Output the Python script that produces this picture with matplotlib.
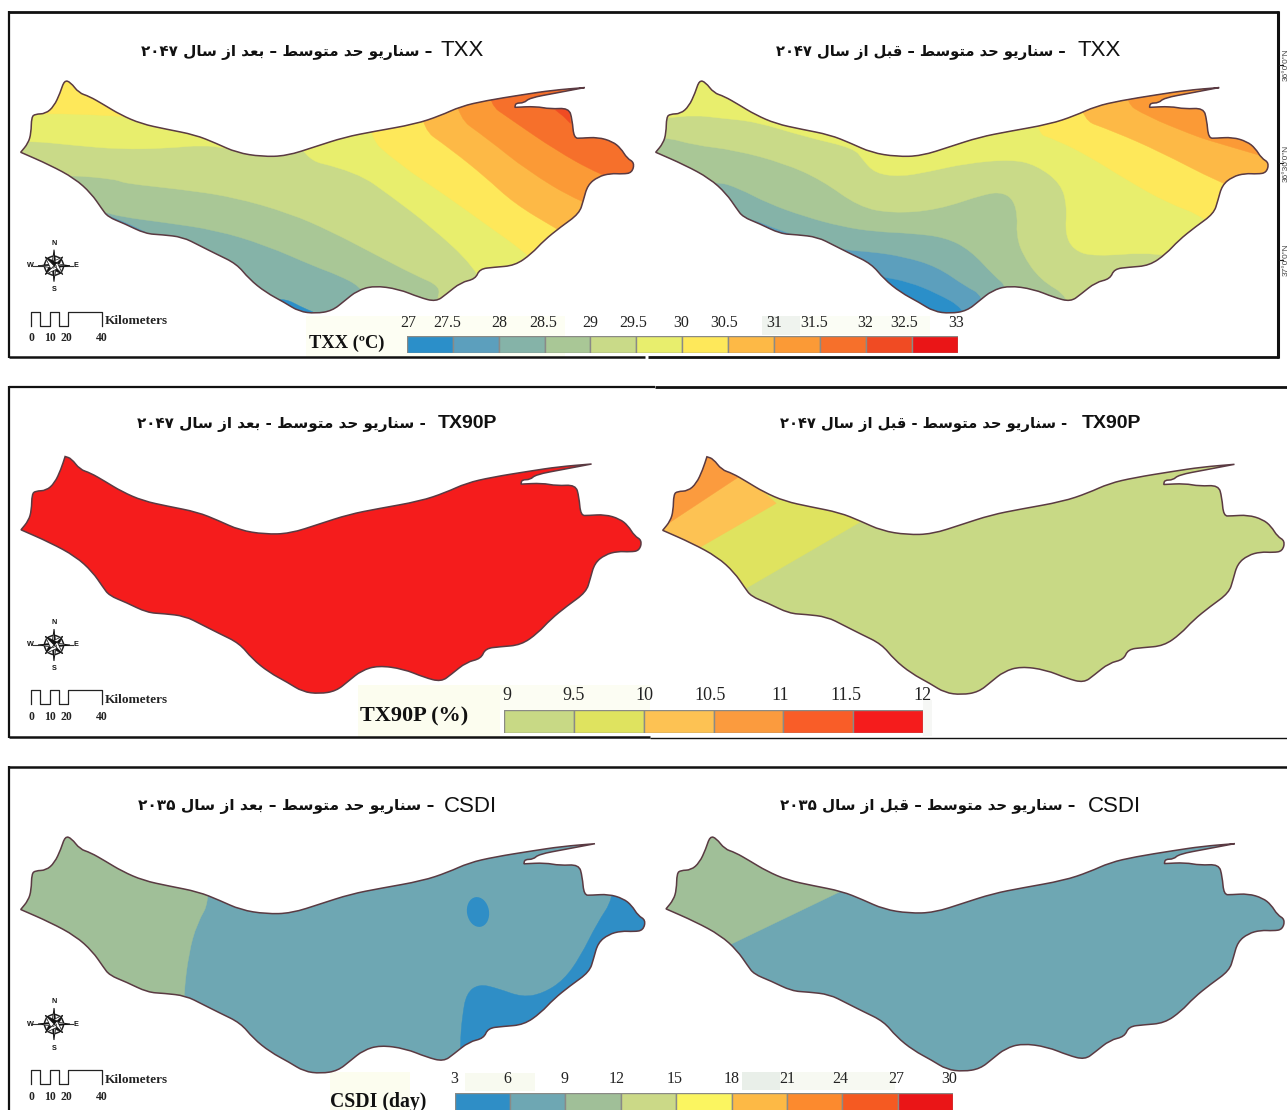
import numpy as np
import matplotlib
matplotlib.use("Agg")
import matplotlib.pyplot as plt
from matplotlib.patches import Circle, PathPatch, Polygon, Rectangle, Ellipse
from matplotlib.path import Path

W, H = 1287, 1110
SERIF = "Liberation Serif"
SANS = "Liberation Sans"

# province outline
OUTLINE = [(50, 457), (68, 430), (75, 400), (76, 352), (85, 343), (110, 342), (130, 320), (145, 280),
           (155, 242), (170, 248), (190, 280), (215, 290), (250, 315), (290, 345), (340, 372), (400, 388),
           (470, 405), (520, 430), (570, 458), (630, 470), (690, 468), (760, 440), (830, 412), (900, 395),
           (1000, 373), (1060, 348), (1110, 320), (1170, 303), (1260, 285), (1330, 272), (1408, 264),
           (1340, 280), (1275, 295), (1262, 310), (1242, 310), (1240, 323), (1290, 320), (1325, 328),
           (1370, 325), (1378, 360), (1382, 415), (1400, 415), (1440, 412), (1475, 425), (1495, 445),
           (1510, 475), (1528, 488), (1522, 518), (1500, 522), (1470, 520), (1440, 530), (1415, 555),
           (1405, 600), (1395, 640), (1350, 680), (1310, 720), (1280, 760), (1240, 795), (1190, 800),
           (1155, 805), (1145, 835), (1110, 845), (1075, 880), (1050, 903), (1010, 890), (960, 865),
           (900, 855), (860, 870), (830, 900), (800, 930), (760, 938), (720, 932), (685, 905), (640, 875),
           (600, 835), (570, 790), (520, 760), (480, 735), (440, 710), (390, 703), (350, 700), (300, 670),
           (260, 650), (245, 625), (220, 580), (180, 535), (120, 495)]

# colour classes
TXX_LEVELS = [27, 27.5, 28, 28.5, 29, 29.5, 30, 30.5, 31, 31.5, 32, 32.5, 33]
TXX_COLORS = ["#2b8fc9", "#5c9fbd", "#85b3a8", "#a9c796", "#c9da88", "#e8ee6d",
              "#fee85a", "#fdb946", "#fb9a36", "#f6702b", "#f04b23", "#ea1517"]
TXX_NUDGE = [1.3, -5.7, 1, -1.7, 0, -3.7, -1.6, -4.6, 0.4, -5.6, -0.5, -7.5, -2]
TX90P_LEVELS = [9, 9.5, 10, 10.5, 11, 11.5, 12]
TX90P_COLORS = ["#c8d985", "#dfe35f", "#fdc253", "#fb9b3e", "#f95d28", "#f51c1c"]
TX90P_NUDGE = [3, 0, 1, -3.5, -3, -7, -1]
CSDI_LEVELS = [3, 6, 9, 12, 15, 18, 21, 24, 27, 30]
CSDI_COLORS = ["#2f8ec6", "#6ea7b3", "#a0bf98", "#cbd987", "#fbf560",
               "#fdb945", "#fc8a2e", "#f55a22", "#ea1517"]
CSDI_NUDGE = [-1, -3, -1, -3.7, -2, 0, 0, -2, -1.4, -3.7]

# class boundaries for TXX after 2047
A_TEAL_SLIVER = [(245, 640), (300, 666), (350, 696), (320, 720), (200, 670)]
A_BLUE_SLIVER = [(690, 897), (725, 920), (755, 936), (700, 970), (650, 900)]
A_GREEN = [(200, 620), (250, 635), (290, 650), (400, 668), (520, 690), (640, 735), (760, 800),
           (815, 825), (870, 860), (880, 900)]
A_OLIVE = [(170, 525), (280, 538), (300, 550), (430, 567), (560, 590), (700, 640), (800, 695),
           (900, 760), (1000, 825), (1065, 860), (1050, 910), (1100, 1300)]
A_LIME_W = [(-100, 423), (78, 423), (170, 435), (290, 448), (400, 445), (490, 435), (545, 445),
            (545, 200), (-100, 200)]
A_LIME_E = [(690, 465), (860, 515), (945, 590), (1040, 680), (1145, 800), (1180, 900)]
A_YELLOW_W = [(-100, 345), (120, 340), (240, 345), (300, 350), (300, 150), (-100, 150)]
A_YELLOW_E = [(875, 395), (960, 490), (1080, 590), (1180, 680), (1260, 750), (1400, 900)]
A_LORANGE = [(1000, 370), (1090, 450), (1170, 530), (1240, 610), (1340, 685), (1500, 800)]
A_ORANGE = [(1085, 335), (1180, 420), (1270, 510), (1395, 605), (1600, 700)]
A_DORANGE = [(1165, 300), (1240, 365), (1340, 450), (1440, 520), (1600, 600)]
A_RED = [(1340, 330), (1372, 320), (1376, 370), (1360, 350)]

# class boundaries for TXX before 2047
B_STEEL = [(560, 825), (585, 830), (650, 845), (720, 880), (785, 925), (800, 1000)]
B_TEAL = [(240, 640), (345, 695), (490, 750), (560, 755), (640, 770), (720, 800), (790, 860),
          (830, 885), (850, 1000)]
B_GREEN = [(185, 543), (240, 565), (310, 610), (400, 650), (490, 680), (570, 695), (660, 700),
           (740, 712), (800, 750), (860, 830), (890, 860), (900, 1000)]
B_OLIVE = [(60, 410), (130, 435), (230, 450), (350, 490), (440, 540), (530, 620), (610, 640),
           (720, 630), (840, 580), (880, 578), (905, 600), (915, 650), (912, 700), (925, 760),
           (970, 840), (1040, 890), (1050, 1000)]
B_LIME = [(65, 355), (130, 345), (200, 355), (280, 365), (400, 410), (520, 445), (540, 480),
          (570, 520), (630, 530), (700, 515), (790, 490), (900, 478), (960, 495), (1020, 550),
          (1035, 620), (1030, 700), (1050, 750), (1100, 770), (1250, 755), (1400, 800)]
B_YELLOW = [(950, 395), (1010, 420), (1090, 470), (1180, 540), (1280, 610), (1370, 650), (1500, 800)]
B_LORANGE = [(1050, 350), (1150, 395), (1260, 455), (1400, 545), (1600, 650)]
B_ORANGE = [(1165, 300), (1230, 350), (1340, 405), (1375, 420), (1480, 458), (1650, 520)]

# class boundaries for the other maps, straight ones stay straight
C_LIME = [(-100, 893), (250, 630), (535, 425), (-100, -100)]
C_LORANGE = [(-100, 676), (155, 495), (330, 370), (-100, -100)]
C_ORANGE = [(-100, 567), (75, 425), (240, 290), (-100, -100)]
D_GREEN = [(510, 415), (475, 490), (455, 580), (443, 705), (443, 800), (-100, 800), (-100, -100), (510, -100)]
D_BLUE = [(1480, 415), (1440, 490), (1400, 590), (1360, 660), (1310, 700), (1260, 712), (1200, 685),
          (1155, 672), (1125, 700), (1115, 770), (1110, 850), (1110, 1000), (1800, 1000), (1800, 300), (1480, 300)]
E_GREEN = [(-100, 744), (225, 550), (485, 395), (-100, -100)]

# Persian titles
LETTERS = {"ا": (0xFE8D, 0xFE8E), "ب": (0xFE8F, 0xFE90, 0xFE91, 0xFE92), "ت": (0xFE95, 0xFE96, 0xFE97, 0xFE98),
           "ح": (0xFEA1, 0xFEA2, 0xFEA3, 0xFEA4), "د": (0xFEA9, 0xFEAA), "ر": (0xFEAD, 0xFEAE),
           "ز": (0xFEAF, 0xFEB0), "س": (0xFEB1, 0xFEB2, 0xFEB3, 0xFEB4), "ط": (0xFEC1, 0xFEC2, 0xFEC3, 0xFEC4),
           "ع": (0xFEC9, 0xFECA, 0xFECB, 0xFECC), "ق": (0xFED5, 0xFED6, 0xFED7, 0xFED8),
           "ل": (0xFEDD, 0xFEDE, 0xFEDF, 0xFEE0), "م": (0xFEE1, 0xFEE2, 0xFEE3, 0xFEE4),
           "ن": (0xFEE5, 0xFEE6, 0xFEE7, 0xFEE8), "و": (0xFEED, 0xFEEE), "ی": (0xFBFC, 0xFBFD, 0xFBFE, 0xFBFF)}


def shape_word(word):
    # matplotlib does no Arabic shaping, so pick the joined glyphs by hand
    if not word[0] in LETTERS:
        return word
    out = []
    for i, ch in enumerate(word):
        forms = LETTERS[ch]
        before = i > 0 and len(LETTERS[word[i - 1]]) == 4
        after = i < len(word) - 1 and len(forms) == 4
        if before and after:
            code = forms[3]
        elif after:
            code = forms[2]
        elif before:
            code = forms[1]
        else:
            code = forms[0]
        out.append(chr(code))
    return "".join(reversed(out))


def persian(text):
    return " ".join(shape_word(w) for w in reversed(text.split()))


def above(pts):
    return pts + [(1800, 1300), (1800, -100), (-100, -100), (-100, pts[0][1])]


def east_of(pts):
    return pts + [(1800, 1300), (1800, -100), (pts[0][0], -100)]


def rounded_path(pts):
    # quadratic curves through edge midpoints, sharp corners stay sharp
    n = len(pts)
    mids = (pts + np.roll(pts, -1, axis=0)) / 2
    verts = [mids[-1]]
    codes = [Path.MOVETO]
    for i in range(n):
        a = pts[i] - pts[i - 1]
        b = pts[(i + 1) % n] - pts[i]
        if np.dot(a, b) < 0:
            verts += [pts[i], mids[i]]
            codes += [Path.LINETO, Path.LINETO]
        else:
            verts += [pts[i], mids[i]]
            codes += [Path.CURVE3, Path.CURVE3]
    return Path(np.array(verts), codes)


def draw_map(ax, extent, origin, xscale, base, zones):
    outline = np.array(OUTLINE, dtype=float)
    x0, x1, y0, y1 = extent
    xs = x0 + (outline[:, 0] - 50) / (1528 - 50) * (x1 - x0)
    ys = y0 + (outline[:, 1] - 242) / (938 - 242) * (y1 - y0)
    path = rounded_path(np.column_stack([xs, ys]))
    shape = PathPatch(path, facecolor=base, edgecolor="none", zorder=2)
    ax.add_patch(shape)
    for color, zone in zones:
        z = np.array(zone, dtype=float) / [xscale, 3.0] + origin
        zpath = Path(np.vstack([z, z[0]]), closed=True) if len(z) <= 4 else rounded_path(z)
        p = PathPatch(zpath, facecolor=color, edgecolor=color, lw=0.3, zorder=3)
        ax.add_patch(p)
        p.set_clip_path(shape)
    ax.add_patch(PathPatch(path, facecolor="none", edgecolor="#5a3a42", lw=1.1, zorder=4))
    return shape


def draw_compass(ax, cx, cy):
    ax.plot([cx - 21, cx + 19], [cy, cy], color="#333333", lw=0.8, zorder=4)
    ax.add_patch(Circle((cx, cy), 9.5, facecolor="none", edgecolor="#222222", lw=1.1, zorder=4))
    for k in range(8):
        ang = np.pi / 4 * k
        r = 16 if k % 2 == 0 else 12.5
        tip = np.array([np.sin(ang), -np.cos(ang)])
        side = np.array([np.cos(ang), np.sin(ang)]) * (2.4 if k % 2 == 0 else 4.5)
        ax.add_patch(Polygon([(cx, cy), (cx + tip[0] * r, cy + tip[1] * r), (cx + side[0], cy + side[1])],
                             facecolor="#111111", edgecolor="#111111", lw=0.3, zorder=5))
        ax.add_patch(Polygon([(cx, cy), (cx + tip[0] * r, cy + tip[1] * r), (cx - side[0], cy - side[1])],
                             facecolor="white", edgecolor="#111111", lw=0.5, zorder=5))
    for lab, dx, dy in [("N", 0, -22.5), ("S", 0, 24), ("W", -24, 0), ("E", 22, 0)]:
        ax.text(cx + dx, cy + dy, lab, fontsize=5.2, fontweight="bold", family=SANS,
                ha="center", va="center", color="#111111", zorder=6)


def draw_scale(ax, y_top):
    xs = np.array([31, 31, 40, 40, 50, 50, 59, 59, 68, 68, 102, 102])
    ys = y_top + np.array([14, 0, 0, 14, 14, 0, 0, 14, 14, 0, 0, 14])
    ax.plot(xs, ys, color="#222222", lw=0.9, zorder=5)
    ax.text(104.5, y_top + 10, "Kilometers", fontsize=9.6, fontweight="bold", family=SERIF,
            va="center", ha="left", color="#222222", zorder=6)
    for lab, x in [("0", 31.5), ("10", 50), ("20", 66.5), ("40", 102)]:
        ax.text(x, y_top + 26.5, lab, fontsize=8.4, fontweight="bold", family=SERIF,
                va="center", ha="center", color="#222222", zorder=6)


def draw_bar(fig, box, levels, colors, nudges, lift, fontsize):
    x0, x1, y0, y1 = box
    bar = fig.add_axes([x0 / W, 1 - y1 / H, (x1 - x0) / W, (y1 - y0) / H])
    bar.set_xlim(levels[0], levels[-1])
    bar.set_ylim(0, 1)
    bar.bar(levels[:-1], 1, width=np.diff(levels), align="edge", color=colors, edgecolor="#8a8a86", lw=1)
    bar.axis("off")
    for val, dx in zip(levels, nudges):
        bar.annotate(f"{val:g}", xy=(val, 1), xycoords=("data", "axes fraction"), xytext=(dx, lift),
                     textcoords="offset pixels", ha="center", va="center", fontsize=fontsize,
                     family=SERIF, color="#222222", annotation_clip=False)


def draw_title(ax, x_latin, x_fa, y, latin, text, weight, size_latin, size_fa):
    ax.text(x_latin, y, latin, family=SANS, fontsize=size_latin, fontweight=weight,
            ha="right", va="center", color="#111111", zorder=6)
    ax.text(x_fa, y + 1, persian(text), family="DejaVu Sans", fontsize=size_fa, fontweight="bold",
            ha="right", va="center", color="#111111", zorder=6)


fig = plt.figure(figsize=(W / 100, H / 100), dpi=100)
ax = fig.add_axes([0, 0, 1, 1])
ax.set_xlim(0, W)
ax.set_ylim(H, 0)
ax.axis("off")

# pale leftovers behind the legends
for x, y, w, h, c in [(306, 316, 259, 41, "#fdfef3"), (762, 316, 38, 19, "#eff3ee"), (800, 316, 130, 19, "#fbfdf5"),
                      (358, 685, 142, 52, "#fcfdef"), (500, 685, 150, 25, "#fcfdf3"), (923, 700, 9, 36, "#f6f7f5"),
                      (330, 1072, 80, 38, "#fcfdef"), (465, 1073, 70, 18, "#f8faf0"), (742, 1072, 38, 18, "#e9efe9"),
                      (780, 1072, 115, 18, "#f7f9f2")]:
    ax.add_patch(Rectangle((x, y), w, h, facecolor=c, edgecolor="none", zorder=1))

# frames
for xs, ys, lw in [([9, 1279], [12, 12], 2.0), ([1278, 1278], [11, 358], 2.2), ([9, 9], [11, 358], 1.6),
                   ([9, 645], [356.5, 356.5], 1.8), ([648, 1279], [357, 357], 2.0),
                   ([9, 655], [387, 387], 1.6), ([655, 1287], [386.5, 386.5], 2.0), ([9, 9], [386, 738], 1.6),
                   ([9, 650], [737, 737], 1.8), ([650, 1287], [738, 738], 1.0),
                   ([9, 1287], [767, 767], 1.8), ([9, 9], [766, 1110], 1.6)]:
    ax.plot(xs, ys, color="#111111", lw=lw, solid_capstyle="butt", zorder=6)

# cut-off graticule at the right edge
for y, lab in [(65, "36°0'0\"N"), (163, "36°30'0\"N"), (260, "37°0'0\"N")]:
    ax.plot([1279, 1283], [y, y], color="#222222", lw=0.8, zorder=6)
    ax.text(1286, y, lab, rotation=90, fontsize=6, family=SANS, ha="center", va="center", color="#444444")

# maps
draw_map(ax, (20.7, 634.5, 80.2, 313.5), (0, 0), 2.412, TXX_COLORS[2],
         [(TXX_COLORS[1], A_TEAL_SLIVER), (TXX_COLORS[0], A_BLUE_SLIVER), (TXX_COLORS[3], above(A_GREEN)),
          (TXX_COLORS[4], above(A_OLIVE)), (TXX_COLORS[5], A_LIME_W), (TXX_COLORS[5], east_of(A_LIME_E)),
          (TXX_COLORS[6], A_YELLOW_W), (TXX_COLORS[6], east_of(A_YELLOW_E)), (TXX_COLORS[7], east_of(A_LORANGE)),
          (TXX_COLORS[8], east_of(A_ORANGE)), (TXX_COLORS[9], east_of(A_DORANGE)), (TXX_COLORS[10], A_RED)])
draw_map(ax, (655.7, 1269, 80.2, 313.5), (640, 0), 2.423, TXX_COLORS[0],
         [(TXX_COLORS[1], above(B_STEEL)), (TXX_COLORS[2], above(B_TEAL)), (TXX_COLORS[3], above(B_GREEN)),
          (TXX_COLORS[4], above(B_OLIVE)), (TXX_COLORS[5], above(B_LIME)), (TXX_COLORS[6], east_of(B_YELLOW)),
          (TXX_COLORS[7], east_of(B_LORANGE)), (TXX_COLORS[8], east_of(B_ORANGE))])
draw_map(ax, (21, 642, 456.5, 693.8), (0, 380), 2.412, TX90P_COLORS[5], [])
draw_map(ax, (662.7, 1285, 456.8, 694.8), (640, 380), 2.423, TX90P_COLORS[0],
         [(TX90P_COLORS[1], C_LIME), (TX90P_COLORS[2], C_LORANGE), (TX90P_COLORS[3], C_ORANGE)])
draw_map(ax, (20.7, 645.7, 836.2, 1073.5), (0, 760), 2.412, CSDI_COLORS[1],
         [(CSDI_COLORS[2], D_GREEN), (CSDI_COLORS[0], D_BLUE)])
ax.add_patch(Ellipse((478, 912), 22, 30, angle=-10, facecolor=CSDI_COLORS[0], edgecolor="none", zorder=3))
draw_map(ax, (666, 1285, 836.2, 1071.5), (640, 760), 2.423, CSDI_COLORS[1], [(CSDI_COLORS[2], E_GREEN)])

# titles
draw_title(ax, 484, 432, 51, "TXX", "– سناریو حد متوسط – بعد از سال ۲۰۴۷", "normal", 16, 10.9)
draw_title(ax, 1121, 1066, 51, "TXX", "– سناریو حد متوسط – قبل از سال ۲۰۴۷", "normal", 16, 10.65)
draw_title(ax, 497, 426, 424, "TX90P", "- سناریو حد متوسط - بعد از سال ۲۰۴۷", "bold", 14, 10.9)
draw_title(ax, 1141, 1067, 424, "TX90P", "- سناریو حد متوسط - قبل از سال ۲۰۴۷", "bold", 14, 10.6)
draw_title(ax, 497, 434, 806, "CSDI", "– سناریو حد متوسط – بعد از سال ۲۰۳۵", "normal", 16, 11.1)
draw_title(ax, 1141, 1075, 806, "CSDI", "– سناریو حد متوسط – قبل از سال ۲۰۳۵", "normal", 16, 10.8)

# compass and scale
for cy, top in [(265.7, 311.5), (645, 690), (1024, 1070)]:
    draw_compass(ax, 54, cy)
    draw_scale(ax, top)

# legends
ax.text(309, 343, "TXX (ºC)", family=SERIF, fontweight="bold", fontsize=13.3, va="center", color="#111111", zorder=6)
ax.text(360, 716, "TX90P (%)", family=SERIF, fontweight="bold", fontsize=16, va="center", color="#111111", zorder=6)
ax.text(330, 1102, "CSDI (day)", family=SERIF, fontweight="bold", fontsize=14.2, va="center", color="#111111", zorder=6)
draw_bar(fig, (406.7, 958, 335.7, 353), TXX_LEVELS, TXX_COLORS, TXX_NUDGE, 13, 11.5)
draw_bar(fig, (504, 923, 710, 732.7), TX90P_LEVELS, TX90P_COLORS, TX90P_NUDGE, 15, 13)
draw_bar(fig, (454.7, 953, 1093, 1111), CSDI_LEVELS, CSDI_COLORS, CSDI_NUDGE, 14, 11.5)

fig.savefig("out.png", dpi=100)
